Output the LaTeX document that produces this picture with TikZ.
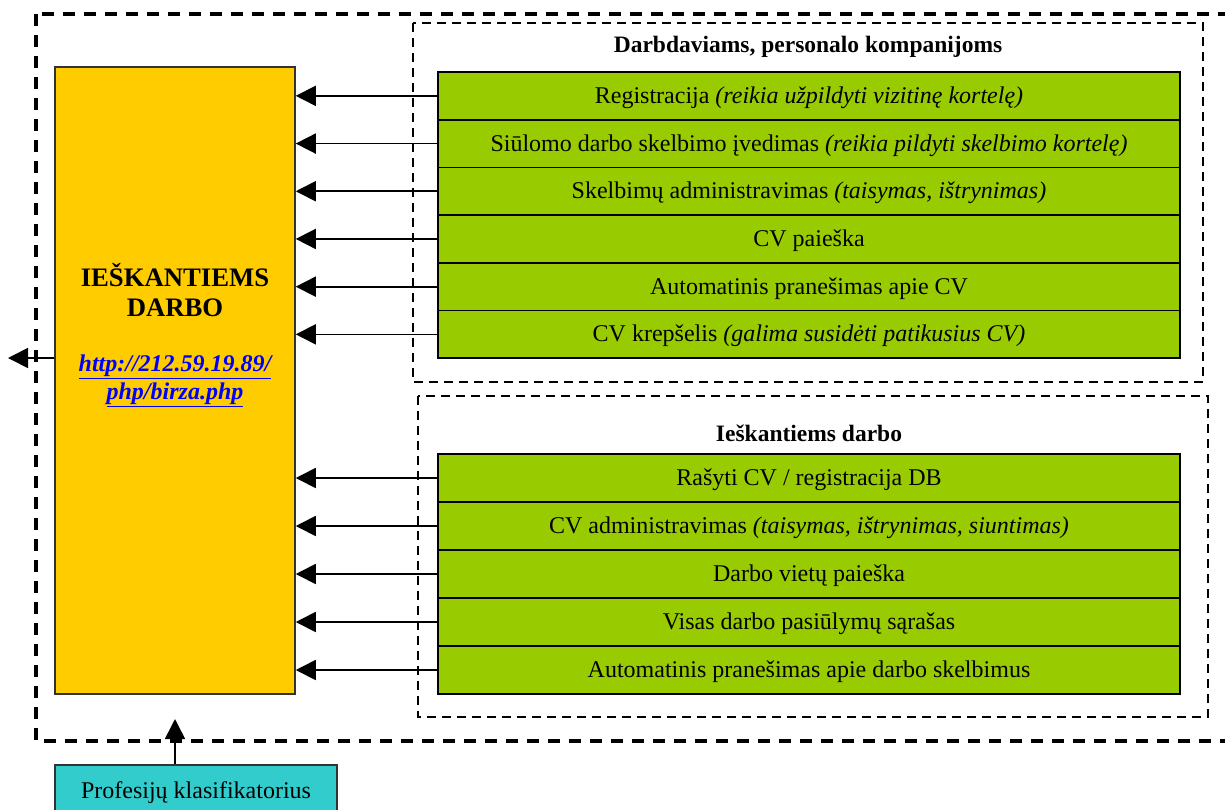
\documentclass[tikz,border=0pt]{standalone}
\usepackage{fontspec}
\setmainfont{Liberation Serif}
\usetikzlibrary{arrows.meta}
\definecolor{gold}{HTML}{FFCC00}
\definecolor{lime}{HTML}{99CC00}
\definecolor{cyanbox}{HTML}{33CCCC}
\definecolor{linkblue}{HTML}{0000FF}
\begin{document}
\begin{tikzpicture}[x=1pt,y=-1pt,
  rowbox/.style={draw=black, line width=1.8pt, fill=lime, minimum width=742pt, minimum height=47.7pt, inner sep=0pt, text height=19pt, text depth=4pt, font=\fontsize{24}{27}\selectfont},
  arr/.style={line width=1.7pt, -{Triangle[length=20pt,width=20pt]}},
  outerdash/.style={line width=3.2pt, dash pattern=on 12pt off 9pt},
  innerdash/.style={line width=2pt, dash pattern=on 9pt off 6pt},
  grouptitle/.style={font=\bfseries\fontsize{23.5}{27}\selectfont, inner sep=0pt}
]
\clip (0,0) rectangle (1225,809);
\fill[white] (0,0) rectangle (1225,809);
% outer dashed frame
\draw[outerdash] (36,14) rectangle (1250,741);
% group frames
\draw[innerdash] (413,23) rectangle (1203,382);
\draw[innerdash] (418,396) rectangle (1208,717);
% main box
\node[draw=black!80, line width=1.5pt, fill=gold, minimum width=240pt, minimum height=627pt, inner sep=0pt] (Y) at (175,380.5) {};
\node[font=\bfseries\fontsize{26.7}{30}\selectfont, align=center, inner sep=0pt] (Yt) at (175,290) {IEŠKANTIEMS\\DARBO};
\node[font=\bfseries\itshape\fontsize{24}{28}\selectfont, text=linkblue, align=center, inner sep=0pt] (Yu) at (175,381) {\underline{http://212.59.19.89/}\\\underline{php/birza.php}};
% group titles
\node[grouptitle] (g1) at (808,47) {Darbdaviams, personalo kompanijoms};
\node[grouptitle] (g2) at (809,433) {Ieškantiems darbo};
% rows group 1
\node[rowbox] (a1) at (809,95.85) {Registracija \textit{(reikia užpildyti vizitinę kortelę)}};
\node[rowbox] (a2) at (809,143.55) {Siūlomo darbo skelbimo įvedimas \textit{(reikia pildyti skelbimo kortelę)}};
\node[rowbox] (a3) at (809,191.25) {Skelbimų administravimas \textit{(taisymas, ištrynimas)}};
\node[rowbox] (a4) at (809,238.95) {CV paieška};
\node[rowbox] (a5) at (809,286.65) {Automatinis pranešimas apie CV};
\node[rowbox] (a6) at (809,334.35) {CV krepšelis \textit{(galima susidėti patikusius CV)}};
% rows group 2
\node[rowbox] (b1) at (809,478) {Rašyti CV / registracija DB};
\node[rowbox] (b2) at (809,526) {CV administravimas \textit{(taisymas, ištrynimas, siuntimas)}};
\node[rowbox] (b3) at (809,574) {Darbo vietų paieška};
\node[rowbox] (b4) at (809,622) {Visas darbo pasiūlymų sąrašas};
\node[rowbox] (b5) at (809,670) {Automatinis pranešimas apie darbo skelbimus};
% arrows into main box
\foreach \n in {a1,a2,a3,a4,a5,a6,b1,b2,b3,b4,b5}
  \draw[arr] (\n.west) -- (\n.west -| Y.east);
% classifier box
\node[draw=black!80, line width=1.5pt, fill=cyanbox, minimum width=282pt, minimum height=48pt, inner sep=0pt, text height=21pt, text depth=3pt, font=\fontsize{24}{27}\selectfont] (P) at (196,789) {Profesijų klasifikatorius};
\coordinate (ptip) at (175,719);
\draw[arr] (P.north -| ptip) -- (ptip);
% outgoing arrow
\coordinate (ltip) at (8,358);
\draw[arr] (Y.west |- ltip) -- (ltip);
\end{tikzpicture}
\end{document}
